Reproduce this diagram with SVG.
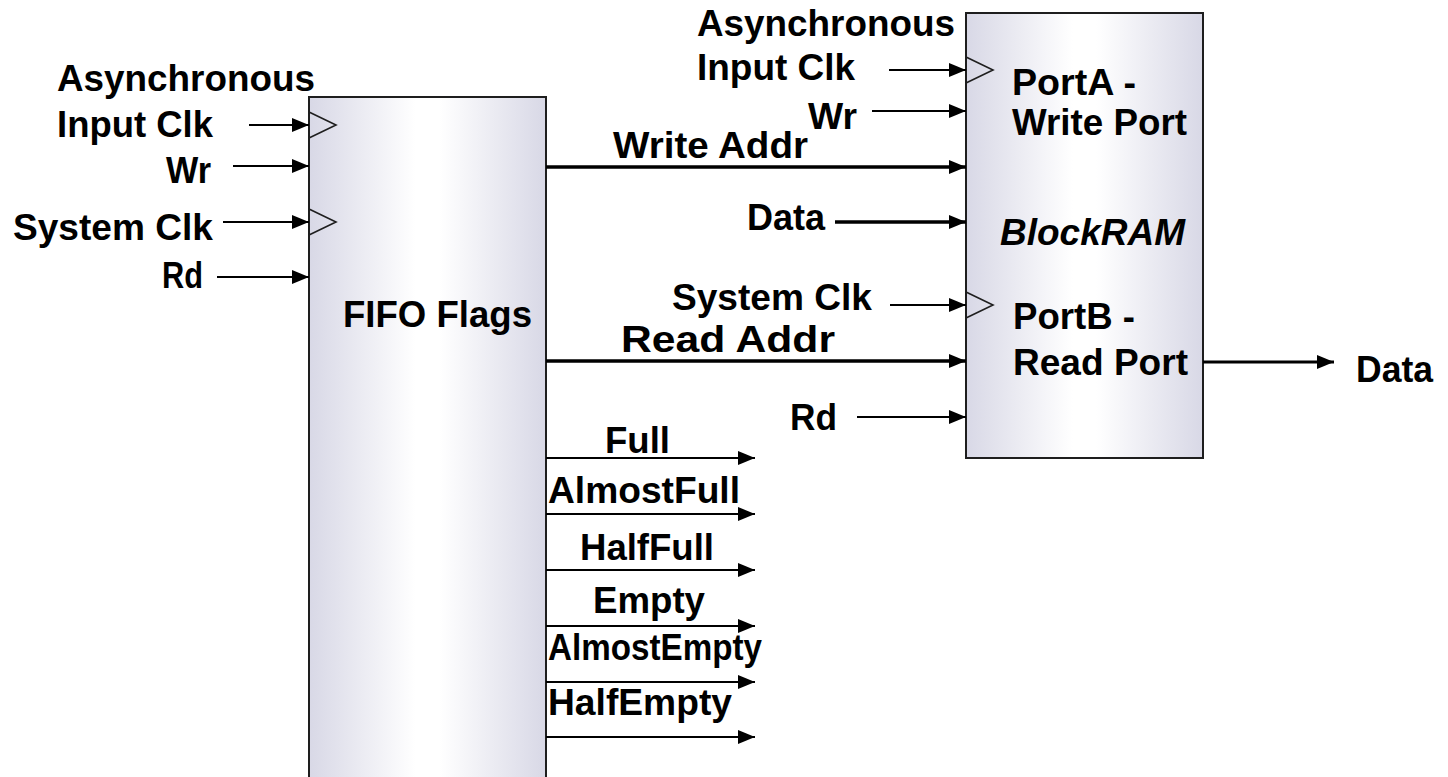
<svg xmlns="http://www.w3.org/2000/svg" width="1448" height="777" viewBox="0 0 1448 777">
  <style>
    .box { stroke: #1e1e1e; stroke-width: 2; fill: url(#shade); }
    .clk { fill: none; stroke: #1e1e1e; stroke-width: 1.6; }
    .wire { fill: none; stroke: #000; stroke-width: 2; marker-end: url(#head); }
    .bus { fill: none; stroke: #000; stroke-width: 3.5; marker-end: url(#head); }
    text { font-family: "Liberation Sans", Arial, Helvetica, sans-serif; font-weight: bold; font-size: 36px; fill: #000; }
    .it { font-style: italic; }
  </style>
  <defs>
    <linearGradient id="shade" x1="0" y1="0" x2="1" y2="0">
      <stop offset="0" stop-color="#d8d8e6"/>
      <stop offset="0.45" stop-color="#ffffff"/>
      <stop offset="0.55" stop-color="#ffffff"/>
      <stop offset="1" stop-color="#d8d8e6"/>
    </linearGradient>
    <marker id="head" markerUnits="userSpaceOnUse" markerWidth="17" markerHeight="14" refX="17" refY="7" orient="auto">
      <path d="M0,0 L17,7 L0,14 z" fill="#000"/>
    </marker>
  </defs>

  <rect width="1448" height="777" fill="#ffffff"/>

  <!-- FIFO flag generator -->
  <g id="fifo">
    <rect class="box" x="309" y="97" width="237" height="710"/>
    <path class="clk" d="M309,112 L336,125 L309,138"/>
    <path class="clk" d="M309,209 L336,222 L309,235"/>
    <text x="343" y="327" textLength="189" lengthAdjust="spacingAndGlyphs">FIFO Flags</text>
  </g>

  <!-- dual-port block RAM -->
  <g id="blockram">
    <rect class="box" x="966" y="13" width="237" height="445"/>
    <path class="clk" d="M966,57 L993,70 L966,83"/>
    <path class="clk" d="M966,292 L993,305 L966,318"/>
    <text x="1012" y="95" textLength="124" lengthAdjust="spacingAndGlyphs">PortA -</text>
    <text x="1012" y="135" textLength="175" lengthAdjust="spacingAndGlyphs">Write Port</text>
    <text class="it" x="1000" y="245" textLength="185" lengthAdjust="spacingAndGlyphs">BlockRAM</text>
    <text x="1013" y="329" textLength="122" lengthAdjust="spacingAndGlyphs">PortB -</text>
    <text x="1013" y="375" textLength="175" lengthAdjust="spacingAndGlyphs">Read Port</text>
  </g>

  <!-- signals -->
  <g id="connectors">
    <!-- FIFO inputs -->
    <line class="wire" x1="249" y1="125" x2="309" y2="125"/>
    <line class="wire" x1="233" y1="166" x2="309" y2="166"/>
    <line class="wire" x1="223" y1="222" x2="309" y2="222"/>
    <line class="wire" x1="217" y1="277" x2="309" y2="277"/>
    <!-- addresses and data into the RAM -->
    <line class="bus" x1="546" y1="167" x2="966" y2="167"/>
    <line class="bus" x1="835" y1="222" x2="966" y2="222"/>
    <line class="bus" x1="546" y1="361" x2="966" y2="361"/>
    <!-- RAM control inputs -->
    <line class="wire" x1="889" y1="70" x2="966" y2="70"/>
    <line class="wire" x1="872" y1="111" x2="966" y2="111"/>
    <line class="wire" x1="890" y1="305" x2="966" y2="305"/>
    <line class="wire" x1="857" y1="417" x2="966" y2="417"/>
    <!-- RAM data out -->
    <line class="bus" x1="1203" y1="362" x2="1334" y2="362" style="stroke-width:3"/>
    <!-- status flags -->
    <line class="wire" x1="546" y1="458" x2="755" y2="458"/>
    <line class="wire" x1="546" y1="514" x2="755" y2="514"/>
    <line class="wire" x1="546" y1="570" x2="755" y2="570"/>
    <line class="wire" x1="546" y1="626" x2="755" y2="626"/>
    <line class="wire" x1="546" y1="682" x2="755" y2="682"/>
    <line class="wire" x1="546" y1="737" x2="755" y2="737"/>
  </g>

  <g id="signal-labels">
    <text x="57" y="91" textLength="258" lengthAdjust="spacingAndGlyphs">Asynchronous</text>
    <text x="57" y="137" textLength="156" lengthAdjust="spacingAndGlyphs">Input Clk</text>
    <text x="166" y="183" textLength="45" lengthAdjust="spacingAndGlyphs">Wr</text>
    <text x="13" y="240" textLength="200" lengthAdjust="spacingAndGlyphs">System Clk</text>
    <text x="162" y="288" textLength="41" lengthAdjust="spacingAndGlyphs">Rd</text>

    <text x="697" y="36" textLength="258" lengthAdjust="spacingAndGlyphs">Asynchronous</text>
    <text x="697" y="80" textLength="158" lengthAdjust="spacingAndGlyphs">Input Clk</text>
    <text x="808" y="129" textLength="49" lengthAdjust="spacingAndGlyphs">Wr</text>
    <text x="613" y="158" textLength="195" lengthAdjust="spacingAndGlyphs">Write Addr</text>
    <text x="747" y="230" textLength="78" lengthAdjust="spacingAndGlyphs">Data</text>
    <text x="672" y="310" textLength="200" lengthAdjust="spacingAndGlyphs">System Clk</text>
    <text x="621" y="352" textLength="214" lengthAdjust="spacingAndGlyphs">Read Addr</text>
    <text x="790" y="430" textLength="47" lengthAdjust="spacingAndGlyphs">Rd</text>
    <text x="1356" y="382" textLength="77" lengthAdjust="spacingAndGlyphs">Data</text>

    <text x="605" y="453" textLength="65" lengthAdjust="spacingAndGlyphs">Full</text>
    <text x="548" y="503" textLength="192" lengthAdjust="spacingAndGlyphs">AlmostFull</text>
    <text x="580" y="560" textLength="134" lengthAdjust="spacingAndGlyphs">HalfFull</text>
    <text x="593" y="613" textLength="112" lengthAdjust="spacingAndGlyphs">Empty</text>
    <text x="548" y="660" textLength="214" lengthAdjust="spacingAndGlyphs">AlmostEmpty</text>
    <text x="548" y="715" textLength="184" lengthAdjust="spacingAndGlyphs">HalfEmpty</text>
  </g>
</svg>
